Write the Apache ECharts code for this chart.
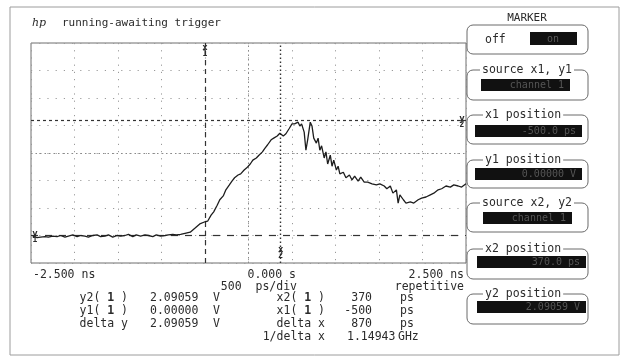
<!DOCTYPE html>
<html>
<head>
<meta charset="utf-8">
<script src="https://cdn.jsdelivr.net/npm/echarts@6/dist/echarts.min.js"></script>
<style>
html,body{margin:0;padding:0;background:#fff;}
#c{width:625px;height:357px;}
</style>
</head>
<body>
<div id="c"></div>
<script>
// time in ps, voltage in V
const times = [-2480,-2430,-2390,-2340,-2300,-2250,-2200,-2160,-2110,-2070,-2020,-1970,-1930,-1880,-1840,-1790,-1740,-1700,-1650,-1610,-1560,-1510,-1470,-1420,-1380,-1330,-1290,-1240,-1190,-1150,-1100,-1060,-1010,-960,-920,-870,-830,-780,-730,
  -670,-610,-560,-500,-470,-430,-400,-360,-330,-290,-260,-220,-190,-160,-120,-90,-50,-20,20,50,90,120,160,190,220,260,290,330,360,400,430,470,500,530,570,590,610,640,660,680,710,730,750,780,800,820,840,870,890,910,940,960,980,1010,1030,1050,1090,1120,1160,1190,1220,1260,1290,1330,1370,1420,1470,1510,1560,1590,1630,1660,1700,1720,1740,1780,1810,1860,1900,1950,1990,2040,2090,2130,2180,2220,2270,2320,2360,2410,2450,2500];
const volts = [-0.01,-0.04,-0.03,-0.02,-0.03,-0.01,-0.02,0.00,-0.03,-0.01,0.01,-0.02,0.00,-0.01,-0.03,0.00,0.01,-0.02,-0.01,0.01,-0.03,0.00,-0.01,0.00,0.02,-0.02,0.01,-0.01,0.01,0.00,-0.02,0.01,-0.01,0.00,0.01,0.02,0.01,0.02,0.04,
  0.06,0.14,0.21,0.25,0.26,0.37,0.43,0.55,0.65,0.72,0.83,0.92,0.99,1.05,1.10,1.12,1.19,1.23,1.30,1.37,1.41,1.46,1.52,1.59,1.65,1.74,1.77,1.81,1.86,1.81,1.85,1.95,2.03,2.03,2.06,1.99,2.03,1.88,1.55,1.74,2.06,1.99,1.77,1.68,1.77,1.55,1.63,1.41,1.52,1.30,1.46,1.26,1.37,1.19,1.26,1.12,1.15,1.05,1.10,1.01,1.08,0.99,1.06,0.97,0.97,0.94,0.92,0.94,0.90,0.85,0.90,0.77,0.83,0.59,0.74,0.65,0.59,0.61,0.59,0.65,0.68,0.70,0.74,0.77,0.83,0.85,0.90,0.88,0.92,0.90,0.88,0.94];

const xEdgeLabels = ['-2.500 ns', '0.000 s', '2.500 ns'];
const markerX1 = -500, markerX2 = 370;
const markerY1 = 0.0, markerY2 = 2.09059;
const readLeftLabels = ['y2', 'y1', 'delta y'];
const readLeftValues = ['2.09059', '0.00000', '2.09059'];
const readRightLabels = ['x2', 'x1', 'delta x', '1/delta x'];
const readRightValues = ['370', '-500', '870', '1.14943'];
const readRightUnits = ['ps', 'ps', 'ps', 'GHz'];
const panelTitles = ['source x1, y1', 'x1 position', 'y1 position', 'source x2, y2', 'x2 position', 'y2 position'];
const panelValues = ['channel 1', '-500.0 ps', '0.00000 V', 'channel 1', '370.0 ps', '2.09059 V'];

const MONO = '"DejaVu Sans Mono", "Liberation Mono", monospace';
const TXT = '#2b2b2b';

const chart = echarts.init(document.getElementById('c'), null, {renderer: 'canvas'});
const data = times.map((t, i) => [t, volts[i]]);

chart.setOption({
  animation: false,
  backgroundColor: '#fff',
  grid: {left: 31, right: 159, top: 43, bottom: 94, show: true, borderColor: '#6f6f6f', borderWidth: 1, backgroundColor: 'transparent'},
  xAxis: {type: 'value', min: -2500, max: 2500, interval: 500,
    axisLine: {show: false}, axisTick: {show: false}, axisLabel: {show: false},
    splitLine: {show: true, lineStyle: {color: '#9a9a9a', width: 1, type: [1.2, 6]}}},
  yAxis: {type: 'value', min: -0.5, max: 3.5, interval: 0.5,
    axisLine: {show: false}, axisTick: {show: false}, axisLabel: {show: false},
    splitLine: {show: true, lineStyle: {color: '#9a9a9a', width: 1, type: [1.2, 7]}}},
  series: [{
    type: 'line', data: data, showSymbol: false, symbol: 'none',
    lineStyle: {color: '#1e1e1e', width: 1.3},
    z: 5,
    markLine: {
      silent: true, symbol: ['none', 'none'], label: {show: false},
      data: [
        {xAxis: 0, lineStyle: {color: '#8a8a8a', width: 1, type: [1.5, 3]}},
        {yAxis: 1.5, lineStyle: {color: '#8a8a8a', width: 1, type: [1.5, 3]}},
        {xAxis: markerX1, lineStyle: {color: '#333', width: 1.2, type: [5, 4]}},
        {xAxis: markerX2, lineStyle: {color: '#333', width: 1.4, type: [1.5, 2.5]}},
        {yAxis: markerY1, lineStyle: {color: '#333', width: 1.2, type: [7, 7]}},
        {yAxis: markerY2, lineStyle: {color: '#333', width: 1.2, type: [3, 3]}}
      ]
    }
  }]
});

function px(x, y) { return chart.convertToPixel({gridIndex: 0}, [x, y]); }
function txt(text, x, y, opts) {
  opts = opts || {};
  return {type: 'text', z: 10, style: Object.assign({text: text, x: x, y: y,
    font: (opts.size || 11.5) + 'px ' + MONO, fill: opts.fill || TXT,
    textAlign: opts.align || 'left', textVerticalAlign: 'middle'}, opts.style || {})};
}

const g = [];
// outer frame
g.push({type: 'rect', shape: {x: 10, y: 7, width: 609, height: 348}, style: {fill: 'none', stroke: '#9c9c9c', lineWidth: 1}, z: 1});
// title
g.push(txt('hp', 32, 23, {style: {font: 'italic 11px "DejaVu Serif", serif'}}));
g.push(txt('running-awaiting trigger', 62, 23, {size: 11}));

// x-axis edge labels
const left = px(-2500, -0.5), mid = px(0, -0.5), right = px(2500, -0.5);
g.push(txt(xEdgeLabels[0], left[0] + 2, 275));
g.push(txt(xEdgeLabels[1], mid[0] - 1, 275));
g.push(txt(xEdgeLabels[2], right[0] - 2, 275, {align: 'right'}));
g.push(txt('500  ps/div', 297, 287, {align: 'right'}));
g.push(txt('repetitive', right[0] - 2, 287, {align: 'right'}));

// marker glyphs
const pX1 = px(markerX1, 3.5), pX2 = px(markerX2, -0.5), pY1 = px(-2500, markerY1), pY2 = px(2500, markerY2);
function glyph(a, b, x, y) {
  g.push(txt(a, x, y, {size: 9, align: 'center', style: {font: 'bold 9px ' + MONO}}));
  g.push(txt(b, x, y + 6, {size: 8, align: 'center', style: {font: 'bold 8px ' + MONO}}));
}
glyph('x', '1', pX1[0], pX1[1] + 5);
glyph('x', '2', pX2[0], pX2[1] - 13);
glyph('y', '1', pY1[0] + 4, pY1[1] - 2);
glyph('y', '2', pY2[0] - 4, pY2[1] - 2);

// readouts
const rows = [298, 311, 324, 337];
const rich = {b: {font: 'bold 11.5px ' + MONO, fill: TXT}};
readLeftLabels.forEach((l, i) => {
  const t = l.startsWith('delta') ? l : l + '( {b|1} )';
  g.push(txt(t, 128, rows[i], {align: 'right', style: {rich: rich}}));
  g.push(txt(readLeftValues[i], 150, rows[i]));
  g.push(txt('V', 213, rows[i]));
});
readRightLabels.forEach((l, i) => {
  const t = l.indexOf('delta') >= 0 ? l : l + '( {b|1} )';
  g.push(txt(t, 325, rows[i], {align: 'right', style: {rich: rich}}));
  g.push(txt(readRightValues[i], i === 3 ? 347 : 372, rows[i], {align: i === 3 ? 'left' : 'right'}));
  g.push(txt(readRightUnits[i], i === 3 ? 398 : 400, rows[i]));
});

// right panel
g.push(txt('MARKER', 527, 18, {align: 'center', size: 11}));
// box 1
g.push({type: 'rect', shape: {x: 467, y: 25, width: 121, height: 29, r: 6}, style: {fill: 'none', stroke: '#6a6a6a', lineWidth: 1}, z: 2});
g.push(txt('off', 485, 40));
g.push({type: 'rect', shape: {x: 530, y: 32, width: 47, height: 13}, style: {fill: '#111'}, z: 3});
g.push(txt('on', 553, 39, {align: 'center', size: 10, fill: '#5a5a5a'}));

const boxTops = [70, 115, 160, 203, 249, 294];
const boxHeights = [30, 29, 28, 29, 30, 30];
const blackX = [481, 475, 475, 483, 477, 477];
const blackW = [89, 107, 107, 89, 109, 109];
const blackOff = [9, 10, 8, 9, 7, 7];
panelTitles.forEach((t, i) => {
  const y = boxTops[i];
  g.push({type: 'rect', shape: {x: 467, y: y, width: 121, height: boxHeights[i], r: 6}, style: {fill: 'none', stroke: '#6a6a6a', lineWidth: 1}, z: 2});
  g.push(txt(t, t.startsWith('source') ? 527 : 483, y, {align: t.startsWith('source') ? 'center' : 'left',
    style: {backgroundColor: '#fff', padding: [0, 2]}}));
  g.push({type: 'rect', shape: {x: blackX[i], y: y + blackOff[i], width: blackW[i], height: 12}, style: {fill: '#111'}, z: 3});
  g.push(txt(panelValues[i], blackX[i] + blackW[i] - 6, y + blackOff[i] + 6, {align: 'right', size: 10, fill: '#555'}));
});

chart.setOption({graphic: g});
</script>
</body>
</html>
